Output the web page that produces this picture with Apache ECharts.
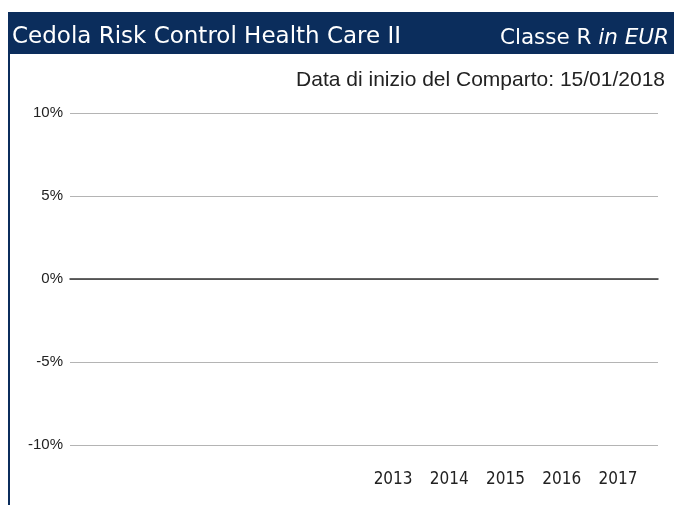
<!DOCTYPE html>
<html>
<head>
<meta charset="utf-8">
<script src="https://cdn.jsdelivr.net/npm/echarts@6/dist/echarts.min.js"></script>
<style>
  html, body { margin: 0; padding: 0; background: #fff; }
  #chart { width: 674px; height: 505px; }
</style>
</head>
<body>
<div id="chart"></div>
<script>
// data
const years = ['2013', '2014', '2015', '2016', '2017']
const returns = [null, null, null, null, null]
const yTicks = [-10, -5, 0, 5, 10]

const navy = '#0b2d5c'
const chart = echarts.init(document.getElementById('chart'))

chart.setOption({
  animation: false,
  graphic: [
    { type: 'rect', left: 8, top: 12, shape: { width: 666, height: 42 }, style: { fill: navy } },
    { type: 'rect', left: 8, top: 54, shape: { width: 2, height: 451 }, style: { fill: navy } }
  ],
  title: [
    {
      text: 'Cedola Risk Control Health Care II',
      left: 12, top: 26, padding: 0,
      textStyle: { color: '#fff', fontFamily: 'DejaVu Sans', fontSize: 23, fontWeight: 'normal' }
    },
    {
      text: 'Classe R {i|in EUR}',
      right: 5, top: 27, padding: 0,
      textStyle: {
        color: '#fff', fontFamily: 'DejaVu Sans', fontSize: 21.5, fontWeight: 'normal',
        rich: { i: { fontStyle: 'italic', color: '#fff', fontFamily: 'DejaVu Sans', fontSize: 21.5 } }
      }
    },
    {
      text: 'Data di inizio del Comparto: 15/01/2018',
      right: 9, top: 70, padding: 0,
      textStyle: { color: '#222', fontFamily: 'Liberation Sans', fontSize: 21, fontWeight: 'normal' }
    }
  ],
  grid: [
    { left: 70, right: 16, top: 113, bottom: 60 },
    { left: 365, right: 28, top: 113, bottom: 60 }
  ],
  xAxis: [
    {
      type: 'category', gridIndex: 0, data: years,
      axisLine: { show: true, onZero: true, lineStyle: { color: '#333', width: 1.5 } },
      axisTick: { show: false }, axisLabel: { show: false }
    },
    {
      type: 'category', gridIndex: 1, data: years,
      axisLine: { show: false }, axisTick: { show: false },
      axisLabel: { margin: 26, color: '#222', fontFamily: 'DejaVu Sans Condensed', fontSize: 17 }
    }
  ],
  yAxis: [
    {
      type: 'value', gridIndex: 0, min: yTicks[0], max: yTicks[yTicks.length - 1], interval: 5,
      axisLine: { show: false }, axisTick: { show: false },
      axisLabel: { formatter: '{value}%', margin: 7, color: '#222', fontFamily: 'Liberation Sans', fontSize: 15 },
      splitLine: { lineStyle: { color: '#b4b4b4', width: 1 } }
    },
    {
      type: 'value', gridIndex: 1, min: -10, max: 10, interval: 5, show: false,
      splitLine: { show: false }
    }
  ],
  series: [
    { type: 'bar', xAxisIndex: 1, yAxisIndex: 1, data: returns, itemStyle: { color: navy } }
  ]
})
</script>
</body>
</html>
